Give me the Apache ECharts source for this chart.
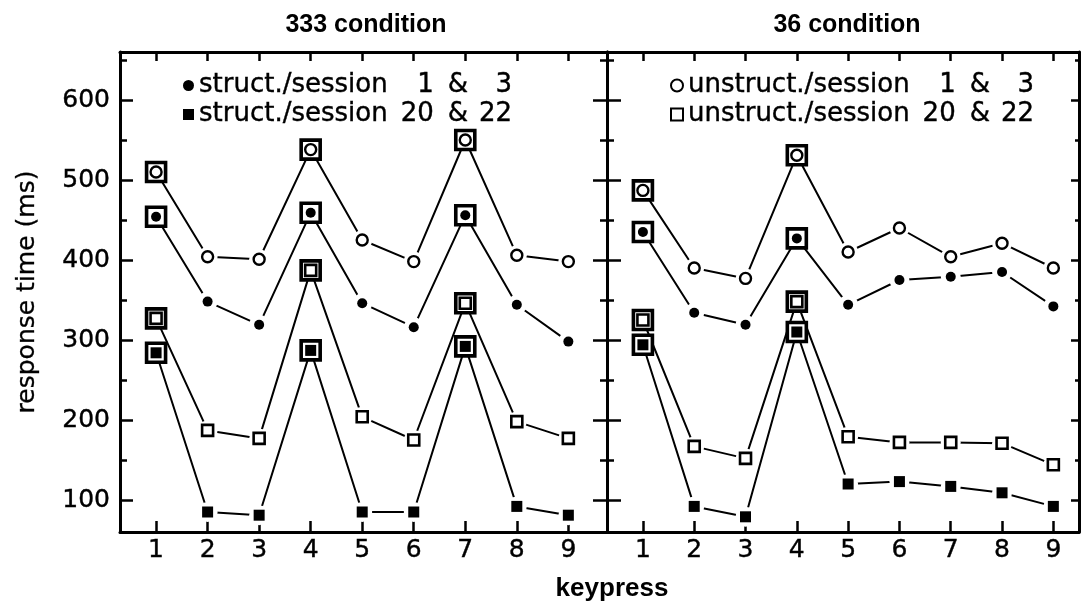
<!DOCTYPE html>
<html>
<head>
<meta charset="utf-8">
<script src="https://cdn.jsdelivr.net/npm/echarts@6/dist/echarts.min.js"></script>
<style>
html,body{margin:0;padding:0;background:#fff;}
#chart{width:1081px;height:602px;}
</style>
</head>
<body>
<div id="chart"></div>
<script>
// ---- data ----
const keypress = [1, 2, 3, 4, 5, 6, 7, 8, 9];
const yTicks = [100, 200, 300, 400, 500, 600];
const yMinorTicks = [150, 250, 350, 450, 550, 650];
const panelTitles = ['333 condition', '36 condition'];

const nameStruct1 = 'struct./session 1 & 3';
const nameStruct20 = 'struct./session 20 & 22';
const nameUnstruct1 = 'unstruct./session 1 & 3';
const nameUnstruct20 = 'unstruct./session 20 & 22';

// 333 condition
const c333_unstruct1  = [510, 404, 401, 538, 425, 398, 550, 406, 398];
const c333_struct1    = [454, 348, 319, 459, 346, 316, 456, 344, 298];
const c333_unstruct20 = [327, 187, 177, 387, 204, 175, 346, 198, 177];
const c333_struct20   = [284, 85, 81, 287, 85, 85, 292, 92, 81];
const c333_chunkStarts = [1, 4, 7];

// 36 condition
const c36_unstruct1  = [487, 390, 377, 531, 410, 440, 404, 421, 390];
const c36_struct1    = [435, 334, 319, 427, 344, 375, 379, 385, 342];
const c36_unstruct20 = [325, 167, 152, 348, 179, 172, 172, 171, 144];
const c36_struct20   = [294, 92, 79, 310, 120, 123, 117, 109, 92];
const c36_chunkStarts = [1, 4];

// ---- build ----
const FONT = 'DejaVu Sans';
const TFONT = 'Liberation Sans';
const BLACK = '#000';

function pts(vals) { return keypress.map((k, i) => [k, vals[i]]); }

const styles = {
  [nameStruct1]:   { symbol: 'circle', size: 10, item: { color: BLACK, opacity: 1 } },
  [nameStruct20]:  { symbol: 'rect', size: 11, item: { color: BLACK, opacity: 1 } },
  [nameUnstruct1]: { symbol: 'circle', size: 11, item: { color: '#fff', borderColor: BLACK, borderWidth: 2.4, opacity: 1 } },
  [nameUnstruct20]:{ symbol: 'rect', size: 11, item: { color: '#fff', borderColor: BLACK, borderWidth: 2.6, opacity: 1 } }
};

const panels = [
  { groups: [[nameUnstruct1, c333_unstruct1], [nameStruct1, c333_struct1], [nameUnstruct20, c333_unstruct20], [nameStruct20, c333_struct20]], chunks: c333_chunkStarts, xIdx: 0, yIdx: 0 },
  { groups: [[nameUnstruct1, c36_unstruct1], [nameStruct1, c36_struct1], [nameUnstruct20, c36_unstruct20], [nameStruct20, c36_struct20]], chunks: c36_chunkStarts, xIdx: 2, yIdx: 4 }
];

const series = [];
panels.forEach((p, pi) => {
  p.groups.forEach(([name, vals], gi) => {
    const st = styles[name];
    series.push({
      type: 'line', name: 'line-' + pi + '-' + gi, xAxisIndex: p.xIdx, yAxisIndex: p.yIdx,
      data: pts(vals), symbol: 'none', silent: true, z: 2,
      lineStyle: { color: BLACK, width: 2 }
    });
    series.push({
      type: 'scatter', name: 'halo-' + pi + '-' + gi, xAxisIndex: p.xIdx, yAxisIndex: p.yIdx,
      data: pts(vals), symbol: 'circle', symbolSize: 20, silent: true, z: 3,
      itemStyle: { color: '#fff', opacity: 1 }
    });
    series.push({
      type: 'scatter', name: 'frame-' + pi + '-' + gi, xAxisIndex: p.xIdx, yAxisIndex: p.yIdx,
      data: p.chunks.map(k => [k, vals[k - 1]]), symbol: 'rect', symbolSize: 19, silent: true, z: 4,
      itemStyle: { color: '#fff', borderColor: BLACK, borderWidth: 3.6, opacity: 1 }
    });
    series.push({
      type: 'scatter', name: name, xAxisIndex: p.xIdx, yAxisIndex: p.yIdx,
      data: pts(vals), symbol: st.symbol, symbolSize: st.size, z: 5,
      itemStyle: Object.assign({}, st.item)
    });
  });
});

const tickStyle = { color: BLACK, width: 2.5 };
const labelStyle = { color: BLACK, fontFamily: FONT, fontSize: 25, textBorderColor: BLACK, textBorderWidth: 0.4 };
function xAx(grid, pos, max, labels, tickLen) {
  return {
    type: 'value', gridIndex: grid, position: pos, min: 0.3, max: max,
    axisLine: { show: true, lineStyle: { color: BLACK, width: 3 } },
    axisTick: { show: true, inside: true, length: tickLen, customValues: keypress, lineStyle: tickStyle },
    axisLabel: labels ? Object.assign({ show: true, customValues: keypress, margin: 6 }, labelStyle) : { show: false },
    splitLine: { show: false }
  };
}
function yAx(grid, pos, ticks, tickLen, showLine, labels) {
  return {
    type: 'value', gridIndex: grid, position: pos, min: 60, max: 660,
    axisLine: { show: showLine, lineStyle: { color: BLACK, width: 3 } },
    axisTick: { show: true, inside: true, length: tickLen, customValues: ticks, lineStyle: tickStyle },
    axisLabel: labels ? Object.assign({ show: true, customValues: ticks, margin: 10 }, labelStyle) : { show: false },
    splitLine: { show: false }
  };
}

const yAxes = [
  yAx(0, 'left', yTicks, 13, true, true),
  yAx(0, 'left', yMinorTicks, 7, false, false),
  yAx(0, 'right', yTicks, 14, true, false),
  yAx(0, 'right', yMinorTicks, 7, false, false),
  yAx(1, 'left', yTicks, 14, true, false),
  yAx(1, 'left', yMinorTicks, 7, false, false),
  yAx(1, 'right', yTicks, 8, true, false),
  yAx(1, 'right', yMinorTicks, 4, false, false)
];
Object.assign(yAxes[0], {
  name: 'response time (ms)', nameLocation: 'middle', nameGap: 80,
  nameTextStyle: { color: BLACK, fontFamily: FONT, fontSize: 25, textBorderColor: BLACK, textBorderWidth: 0.3 }
});

// legend label: figure spaces pad single digits so the numbers line up
const FIG = '\u2007';
function pad2(s) { return s.length < 2 ? FIG + s : s; }
function legendFormatter(name) {
  const m = name.match(/^(.*\/session) (\d+) & (\d+)$/);
  return '{a|' + m[1] + '}{g1| }{a|' + pad2(m[2]) + '}{g2| }{a|&}{g3| }{a|' + pad2(m[3]) + '}';
}
const LH = 29;
const legendRich = { fontFamily: FONT, fontSize: 26, lineHeight: LH, color: BLACK, textBorderColor: BLACK, textBorderWidth: 0.4 };
const legendText = Object.assign({}, legendRich, {
  rich: {
    a: Object.assign({}, legendRich),
    g1: Object.assign({ width: 13 }, legendRich),
    g2: Object.assign({ width: 14 }, legendRich),
    g3: Object.assign({ width: 11 }, legendRich)
  }
});

const titleStyle = { color: BLACK, fontFamily: TFONT, fontSize: 25, fontWeight: 'bold' };
const option = {
  animation: false,
  backgroundColor: '#fff',
  title: [
    { text: panelTitles[0], left: 361, top: 8, textAlign: 'center', textStyle: titleStyle },
    { text: panelTitles[1], left: 842, top: 8, textAlign: 'center', textStyle: titleStyle },
    { text: 'keypress', left: 607, top: 571, textAlign: 'center', textStyle: Object.assign({}, titleStyle, { fontSize: 26 }) }
  ],
  legend: [
    { data: [{ name: nameStruct1, icon: 'circle' }, { name: nameStruct20, icon: 'rect' }],
      orient: 'vertical', left: 178, top: 66, itemWidth: 11, itemHeight: 11, itemGap: 0,
      selectedMode: false, textStyle: legendText, formatter: legendFormatter },
    { data: [{ name: nameUnstruct1, icon: 'circle' }, { name: nameUnstruct20, icon: 'rect' }],
      orient: 'vertical', left: 665, top: 66, itemWidth: 12, itemHeight: 12, itemGap: 0,
      selectedMode: false, textStyle: legendText, formatter: legendFormatter }
  ],
  grid: [
    { left: 120, right: 474, top: 52, bottom: 70 },
    { left: 607, right: 2, top: 52, bottom: 70 }
  ],
  xAxis: [
    xAx(0, 'bottom', 9.75, true, 11),
    xAx(0, 'top', 9.75, false, 9),
    xAx(1, 'bottom', 9.5, true, 11),
    xAx(1, 'top', 9.5, false, 9)
  ],
  yAxis: yAxes,
  series: series
};

const chart = echarts.init(document.getElementById('chart'), null, { renderer: 'canvas' });
chart.setOption(option);
</script>
</body>
</html>
